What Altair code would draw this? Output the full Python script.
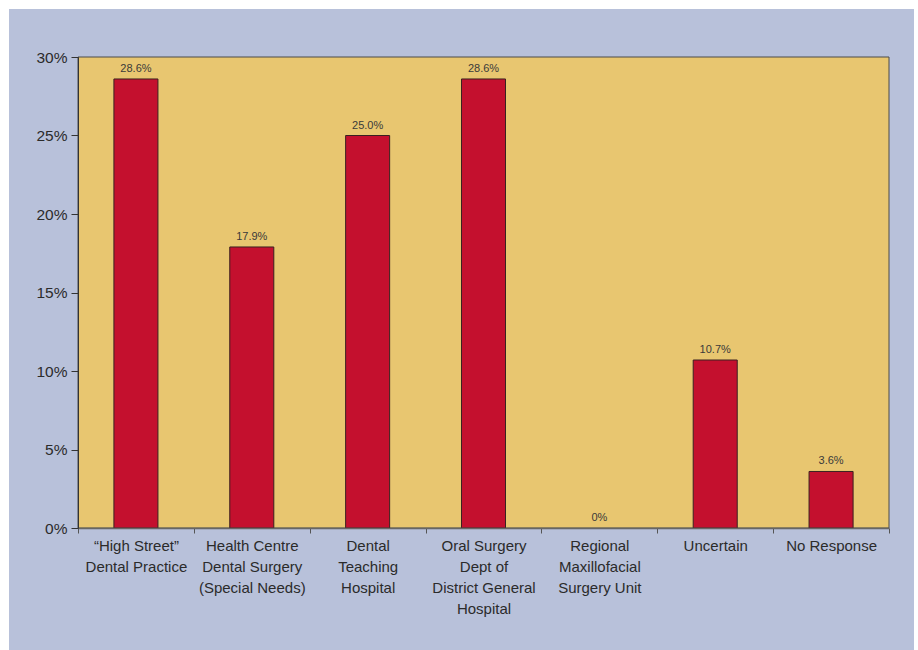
import altair as alt
import pandas as pd

# Where patients are referred for treatment (share of respondents)
categories = [
    "“High Street”|Dental Practice",
    "Health Centre|Dental Surgery|(Special Needs)",
    "Dental|Teaching|Hospital",
    "Oral Surgery|Dept of|District General|Hospital",
    "Regional|Maxillofacial|Surgery Unit",
    "Uncertain",
    "No Response",
]
shares = [28.6, 17.9, 25.0, 28.6, 0.0, 10.7, 3.6]
share_labels = ["28.6%", "17.9%", "25.0%", "28.6%", "0%", "10.7%", "3.6%"]
y_ticks = [0, 5, 10, 15, 20, 25, 30]

df = pd.DataFrame({"category": categories, "share": shares, "label": share_labels})

W, H = 811, 471
PANEL_BG = "#B8C1DA"
PLOT_BG = "#E8C670"
BAR = "#C4102E"
INK = "#2B2B2B"
FONT = "Liberation Sans"

one_row = alt.Data(values=[{}])

# blue panel behind the whole chart
panel = alt.Chart(one_row).mark_rect(color=PANEL_BG).encode(
    x=alt.value(-69), x2=alt.value(836), y=alt.value(-48), y2=alt.value(600)
)

# yellow plotting area with a thin frame
plot_area = alt.Chart(one_row).mark_rect(
    fill=PLOT_BG, stroke="#4A4A4A", strokeWidth=1
).encode(x=alt.value(0), x2=alt.value(W), y=alt.value(0), y2=alt.value(H))

x_enc = alt.X(
    "category:N",
    sort=categories,
    title=None,
    scale=alt.Scale(paddingInner=0, paddingOuter=0),
    axis=alt.Axis(
        labelExpr="split(datum.label, '|')",
        labelAngle=0,
        labelFont=FONT,
        labelFontSize=15,
        labelColor=INK,
        labelLineHeight=21,
        labelPadding=5,
        labelBaseline="top",
        tickBand="extent",
        tickSize=5,
        tickColor="#555555",
        domainColor="#666666",
        domainWidth=1.5,
        zindex=1,
    ),
)

y_enc = alt.Y(
    "share:Q",
    title=None,
    scale=alt.Scale(domain=[0, 30], nice=False),
    axis=alt.Axis(
        values=y_ticks,
        labelExpr="datum.value + '%'",
        labelFont=FONT,
        labelFontSize=15.5,
        labelColor=INK,
        labelPadding=4,
        tickSize=7,
        tickColor="#333333",
        domainColor="#333333",
        grid=False,
        zindex=1,
    ),
)

bars = alt.Chart(df).mark_bar(
    color=BAR, stroke="#3A2020", strokeWidth=1, width=alt.RelativeBandSize(0.38)
).encode(
    x=x_enc,
    y=y_enc,
    strokeOpacity=alt.condition("datum.share > 0", alt.value(1), alt.value(0)),
)

labels = alt.Chart(df).mark_text(
    font=FONT, fontSize=11, color="#3A3A3A", baseline="bottom", dy=-5
).encode(x=alt.X("category:N", sort=categories), y="share:Q", text="label:N")

chart = (
    alt.layer(panel, plot_area, bars, labels)
    .properties(
        width=W,
        height=H,
        background="white",
        padding={"left": 78, "top": 57, "right": 29, "bottom": 122},
        autosize=alt.AutoSizeParams(type="none"),
    )
    .configure_view(stroke=None)
)

chart.save("out.html", embed_options={"renderer": "svg", "actions": False})
